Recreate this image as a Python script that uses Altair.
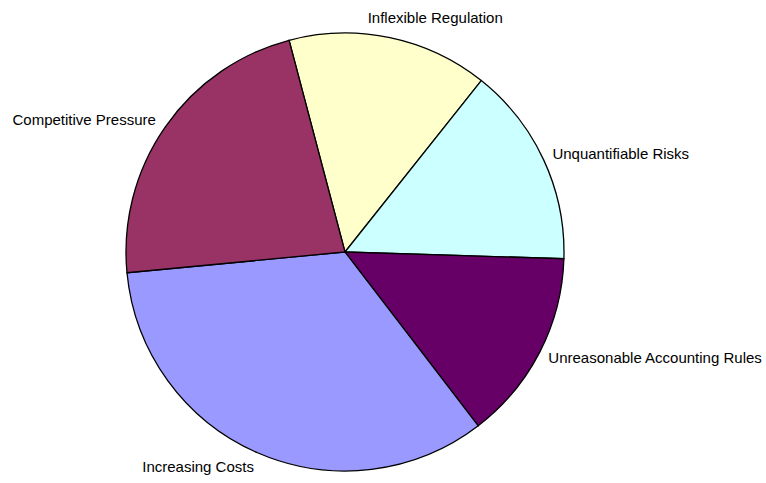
import math
import altair as alt
import pandas as pd

categories = ["Inflexible Regulation", "Unquantifiable Risks", "Unreasonable Accounting Rules",
              "Increasing Costs", "Competitive Pressure"]
values = [14.8, 14.8, 14.1, 33.9, 22.4]
colors = ["#FFFFCC", "#CCFFFF", "#660066", "#9999FF", "#993366"]
label_align = ["center", "left", "left", "right", "right"]

df = pd.DataFrame({"category": categories, "value": values, "idx": list(range(len(categories)))})
for a in ["left", "right", "center"]:
    df["lbl_" + a] = [c if al == a else "" for c, al in zip(categories, label_align)]

start = -14.8 * math.pi / 180
theta_scale = alt.Scale(range=[start, start + 2 * math.pi])

base = alt.Chart(df).encode(
    theta=alt.Theta("value:Q", stack=True, scale=theta_scale),
    order=alt.Order("idx:Q"),
)

pie = base.mark_arc(outerRadius=219, stroke="black", strokeWidth=1.3).encode(
    color=alt.Color("category:N", scale=alt.Scale(domain=categories, range=colors), legend=None)
)

font = dict(font="Liberation Sans", fontSize=15, color="black", baseline="middle")
t_left = base.mark_text(radius=233, align="left", dx=-4, **font).encode(text="lbl_left:N")
t_right = base.mark_text(radius=233, align="right", dx=2, dy=1, **font).encode(text="lbl_right:N")
t_center = base.mark_text(radius=235, align="center", dx=42, dy=-4, **font).encode(text="lbl_center:N")

chart = alt.layer(pie, t_left, t_right, t_center).properties(
    width=690, height=462,
    autosize=alt.AutoSizeParams(type="none"),
    padding={"left": 0, "top": 21, "right": 76, "bottom": 0},
).configure_view(stroke=None).configure(background="white")

chart.save("out.html", embed_options={"renderer": "svg", "actions": False})
